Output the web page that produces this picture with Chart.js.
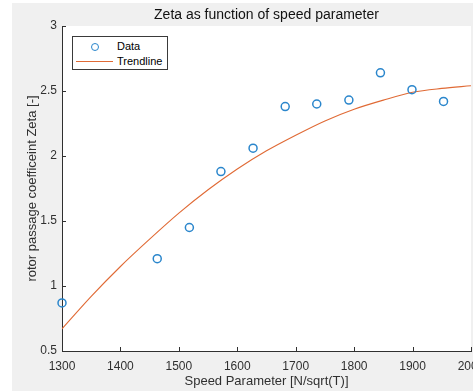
<!DOCTYPE html>
<html>
<head>
<meta charset="utf-8">
<script src="https://cdn.jsdelivr.net/npm/chart.js@4.4.0/dist/chart.umd.min.js"></script>
<style>
  html, body { margin: 0; padding: 0; background: #fff; overflow: hidden; }
  #wrap { position: absolute; left: 12px; top: 3px; width: 461px; height: 388px; background: #f0f0f0; overflow: hidden; }
  #chart { position: absolute; left: 0; top: 0; }
  #legend { position: absolute; left: 60px; top: 33px; width: 96px; height: 34px; box-sizing: border-box;
            background: #fff; border: 1px solid #3a3a3a; font: 11px "Liberation Sans", Arial, sans-serif; color: #000; }
  #legend .mark-circle { position: absolute; left: 18px; top: 6px; width: 6px; height: 6px; border: 1.5px solid #2a86cc; border-radius: 50%; }
  #legend .mark-line { position: absolute; left: 3px; top: 24px; width: 37px; border-top: 1.2px solid #e06a35; }
  #legend .lbl { position: absolute; left: 44px; line-height: 13px; }
</style>
</head>
<body>
<div id="wrap">
  <canvas id="chart" width="520" height="388"></canvas>
  <div id="legend"></div>
</div>
<script>
// data
const speedParam = [1300, 1463, 1518, 1572, 1627, 1682, 1736, 1791, 1845, 1899, 1953];
const zetaData = [0.87, 1.21, 1.45, 1.88, 2.06, 2.38, 2.40, 2.43, 2.64, 2.51, 2.42];

// trendline, read at every 50 units of speed parameter
const trendSpeed = [1300, 1350, 1400, 1450, 1500, 1550, 1600, 1650, 1700, 1750, 1800, 1850, 1900, 1950, 2000];
const trendZeta = [0.67, 0.92, 1.15, 1.36, 1.56, 1.74, 1.90, 2.04, 2.16, 2.27, 2.36, 2.43, 2.49, 2.52, 2.54];

// axis ticks
const xTickValues = [1300, 1400, 1500, 1600, 1700, 1800, 1900, 2000];
const yTickValues = [0.5, 1, 1.5, 2, 2.5, 3];

const seriesNames = ['Data', 'Trendline'];

const axisColor = '#303030';
const fontFamily = '"Liberation Sans", Arial, sans-serif';

// white plot background
const plotBackground = {
  id: 'plotBackground',
  beforeDraw(chart) {
    const { ctx, chartArea } = chart;
    ctx.save();
    ctx.fillStyle = '#fff';
    ctx.fillRect(chartArea.left, chartArea.top, chartArea.right - chartArea.left, chartArea.bottom - chartArea.top);
    ctx.restore();
  }
};

// MATLAB style tick marks pointing into the plot
const inwardTicks = {
  id: 'inwardTicks',
  beforeDatasetsDraw(chart) {
    const { ctx, chartArea, scales } = chart;
    ctx.save();
    ctx.strokeStyle = axisColor;
    ctx.lineWidth = 1;
    ctx.beginPath();
    scales.x.ticks.forEach(t => {
      const px = Math.round(scales.x.getPixelForValue(t.value)) + 0.5;
      ctx.moveTo(px, chartArea.bottom);
      ctx.lineTo(px, chartArea.bottom - 4);
    });
    scales.y.ticks.forEach(t => {
      const py = Math.round(scales.y.getPixelForValue(t.value)) + 0.5;
      ctx.moveTo(chartArea.left, py);
      ctx.lineTo(chartArea.left + 4, py);
    });
    ctx.stroke();
    ctx.restore();
  }
};

const ctx = document.getElementById('chart').getContext('2d');
const chart = new Chart(ctx, {
  type: 'scatter',
  data: {
    datasets: [{
      label: seriesNames[0],
      data: speedParam.map((x, i) => ({ x: x, y: zetaData[i] })),
      showLine: false,
      pointStyle: 'circle',
      pointRadius: 4,
      pointBorderWidth: 1.5,
      pointBorderColor: '#2a86cc',
      pointBackgroundColor: 'rgba(0,0,0,0)',
      clip: false,
      order: 0
    }, {
      label: seriesNames[1],
      data: trendSpeed.map((x, i) => ({ x: x, y: trendZeta[i] })),
      showLine: true,
      borderColor: '#e06a35',
      borderWidth: 1.1,
      pointRadius: 0,
      cubicInterpolationMode: 'monotone',
      order: 1
    }]
  },
  options: {
    responsive: false,
    animation: false,
    devicePixelRatio: 1,
    layout: { padding: { left: 0, right: 61, top: 0, bottom: 0 } },
    plugins: {
      legend: { display: false },
      tooltip: { enabled: false },
      title: {
        display: true,
        fullSize: false,
        text: 'Zeta as function of speed parameter',
        color: '#111',
        font: { family: fontFamily, size: 14, weight: 'normal' },
        padding: { top: 3.5, bottom: 2.7 }
      }
    },
    scales: {
      x: {
        type: 'linear',
        min: 1300,
        max: 2000,
        afterBuildTicks: s => { s.ticks = xTickValues.map(v => ({ value: v })); },
        afterFit: s => { s.height = 40; },
        grid: { display: true, drawOnChartArea: false, drawTicks: false },
        border: { display: true, color: axisColor, width: 1 },
        ticks: {
          color: axisColor,
          padding: 8,
          maxRotation: 0,
          font: { family: fontFamily, size: 12 },
          callback: v => String(v)
        },
        title: {
          display: true,
          text: 'Speed Parameter [N/sqrt(T)]',
          color: axisColor,
          font: { family: fontFamily, size: 13 },
          padding: { top: 0, bottom: 2 }
        }
      },
      y: {
        type: 'linear',
        min: 0.5,
        max: 3,
        afterBuildTicks: s => { s.ticks = yTickValues.map(v => ({ value: v })); },
        afterFit: s => { s.width = 50; },
        grid: { display: true, drawOnChartArea: false, drawTicks: false },
        border: { display: true, color: axisColor, width: 1 },
        ticks: {
          color: axisColor,
          padding: 5,
          font: { family: fontFamily, size: 12 },
          callback: v => String(v)
        },
        title: {
          display: true,
          text: 'rotor passage coefficeint Zeta [-]',
          color: axisColor,
          font: { family: fontFamily, size: 13 },
          padding: { top: 12.7, bottom: 0 }
        }
      }
    }
  },
  plugins: [plotBackground, inwardTicks]
});

// legend box inside the plot, built from the dataset labels
const legend = document.getElementById('legend');
chart.data.datasets.forEach((ds, i) => {
  const mark = document.createElement('span');
  mark.className = i === 0 ? 'mark-circle' : 'mark-line';
  legend.appendChild(mark);
  const lbl = document.createElement('span');
  lbl.className = 'lbl';
  lbl.style.top = (i === 0 ? 3 : 18) + 'px';
  lbl.textContent = ds.label;
  legend.appendChild(lbl);
});
</script>
</body>
</html>
